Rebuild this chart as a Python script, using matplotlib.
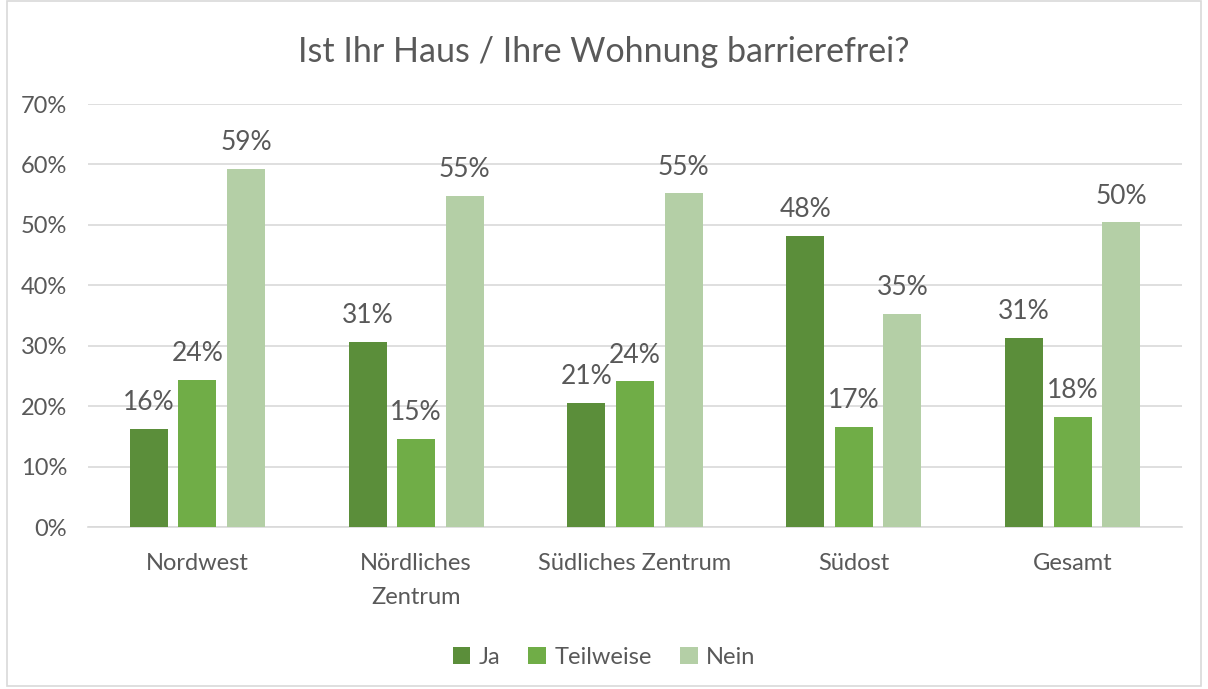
import numpy as np
import matplotlib.pyplot as plt
from matplotlib.patches import Rectangle

plt.rcParams['font.family'] = ['Lato', 'DejaVu Sans']

categories = ["Nordwest", "Nördliches\nZentrum", "Südliches Zentrum", "Südost", "Gesamt"]
series = ["Ja", "Teilweise", "Nein"]
ja = [16.3, 30.6, 20.6, 48.1, 31.3]
teilweise = [24.4, 14.6, 24.1, 16.6, 18.2]
nein = [59.2, 54.8, 55.2, 35.3, 50.4]
colors = ["#5B8E3A", "#70AD47", "#B4CFA6"]
text_color = "#595959"

fig = plt.figure(figsize=(12.08, 6.89), dpi=100)
ax = fig.add_axes([0.0728, 0.235, 0.9057, 0.614])

x = np.arange(len(categories))
width = 0.174
step = 0.222
for i, (name, vals) in enumerate(zip(series, [ja, teilweise, nein])):
    pos = x + (i - 1) * step
    bars = ax.bar(pos, vals, width, color=colors[i], label=name, zorder=3)
    for b, v in zip(bars, vals):
        ax.text(b.get_x() + b.get_width() / 2, v + 2.3, f"{v:.0f}%",
                ha="center", va="bottom", fontsize=19, color=text_color)

ax.set_xlim(-0.5, len(categories) - 0.5)
ax.set_ylim(0, 70)
ax.set_yticks(range(0, 71, 10))
ax.set_yticklabels([f"{t}%" for t in range(0, 71, 10)])
ax.set_xticks(x)
ax.set_xticklabels(categories, linespacing=1.75)
ax.tick_params(axis="both", length=0, labelsize=17, colors=text_color)
ax.tick_params(axis="x", pad=19)
ax.tick_params(axis="y", pad=15)
ax.grid(axis="y", color="#D9D9D9", linewidth=1.2, zorder=0)
for s in ["top", "right", "left"]:
    ax.spines[s].set_visible(False)
ax.spines["bottom"].set_color("#D9D9D9")
ax.spines["bottom"].set_linewidth(1.2)

fig.text(0.5, 0.925, "Ist Ihr Haus / Ihre Wohnung barrierefrei?", ha="center",
         va="center", fontsize=24.5, color=text_color)

fig.legend(loc="lower center", bbox_to_anchor=(0.5, 0.0), ncol=3, frameon=False,
           fontsize=17, labelcolor=text_color, handlelength=0.75, handleheight=0.75,
           handletextpad=0.35, columnspacing=1.2)

fig.patches.append(Rectangle((0.006, 0.004), 0.988, 0.994, transform=fig.transFigure,
                             fill=False, edgecolor="#D9D9D9", linewidth=1.2))

fig.savefig("out.png", dpi=100)
